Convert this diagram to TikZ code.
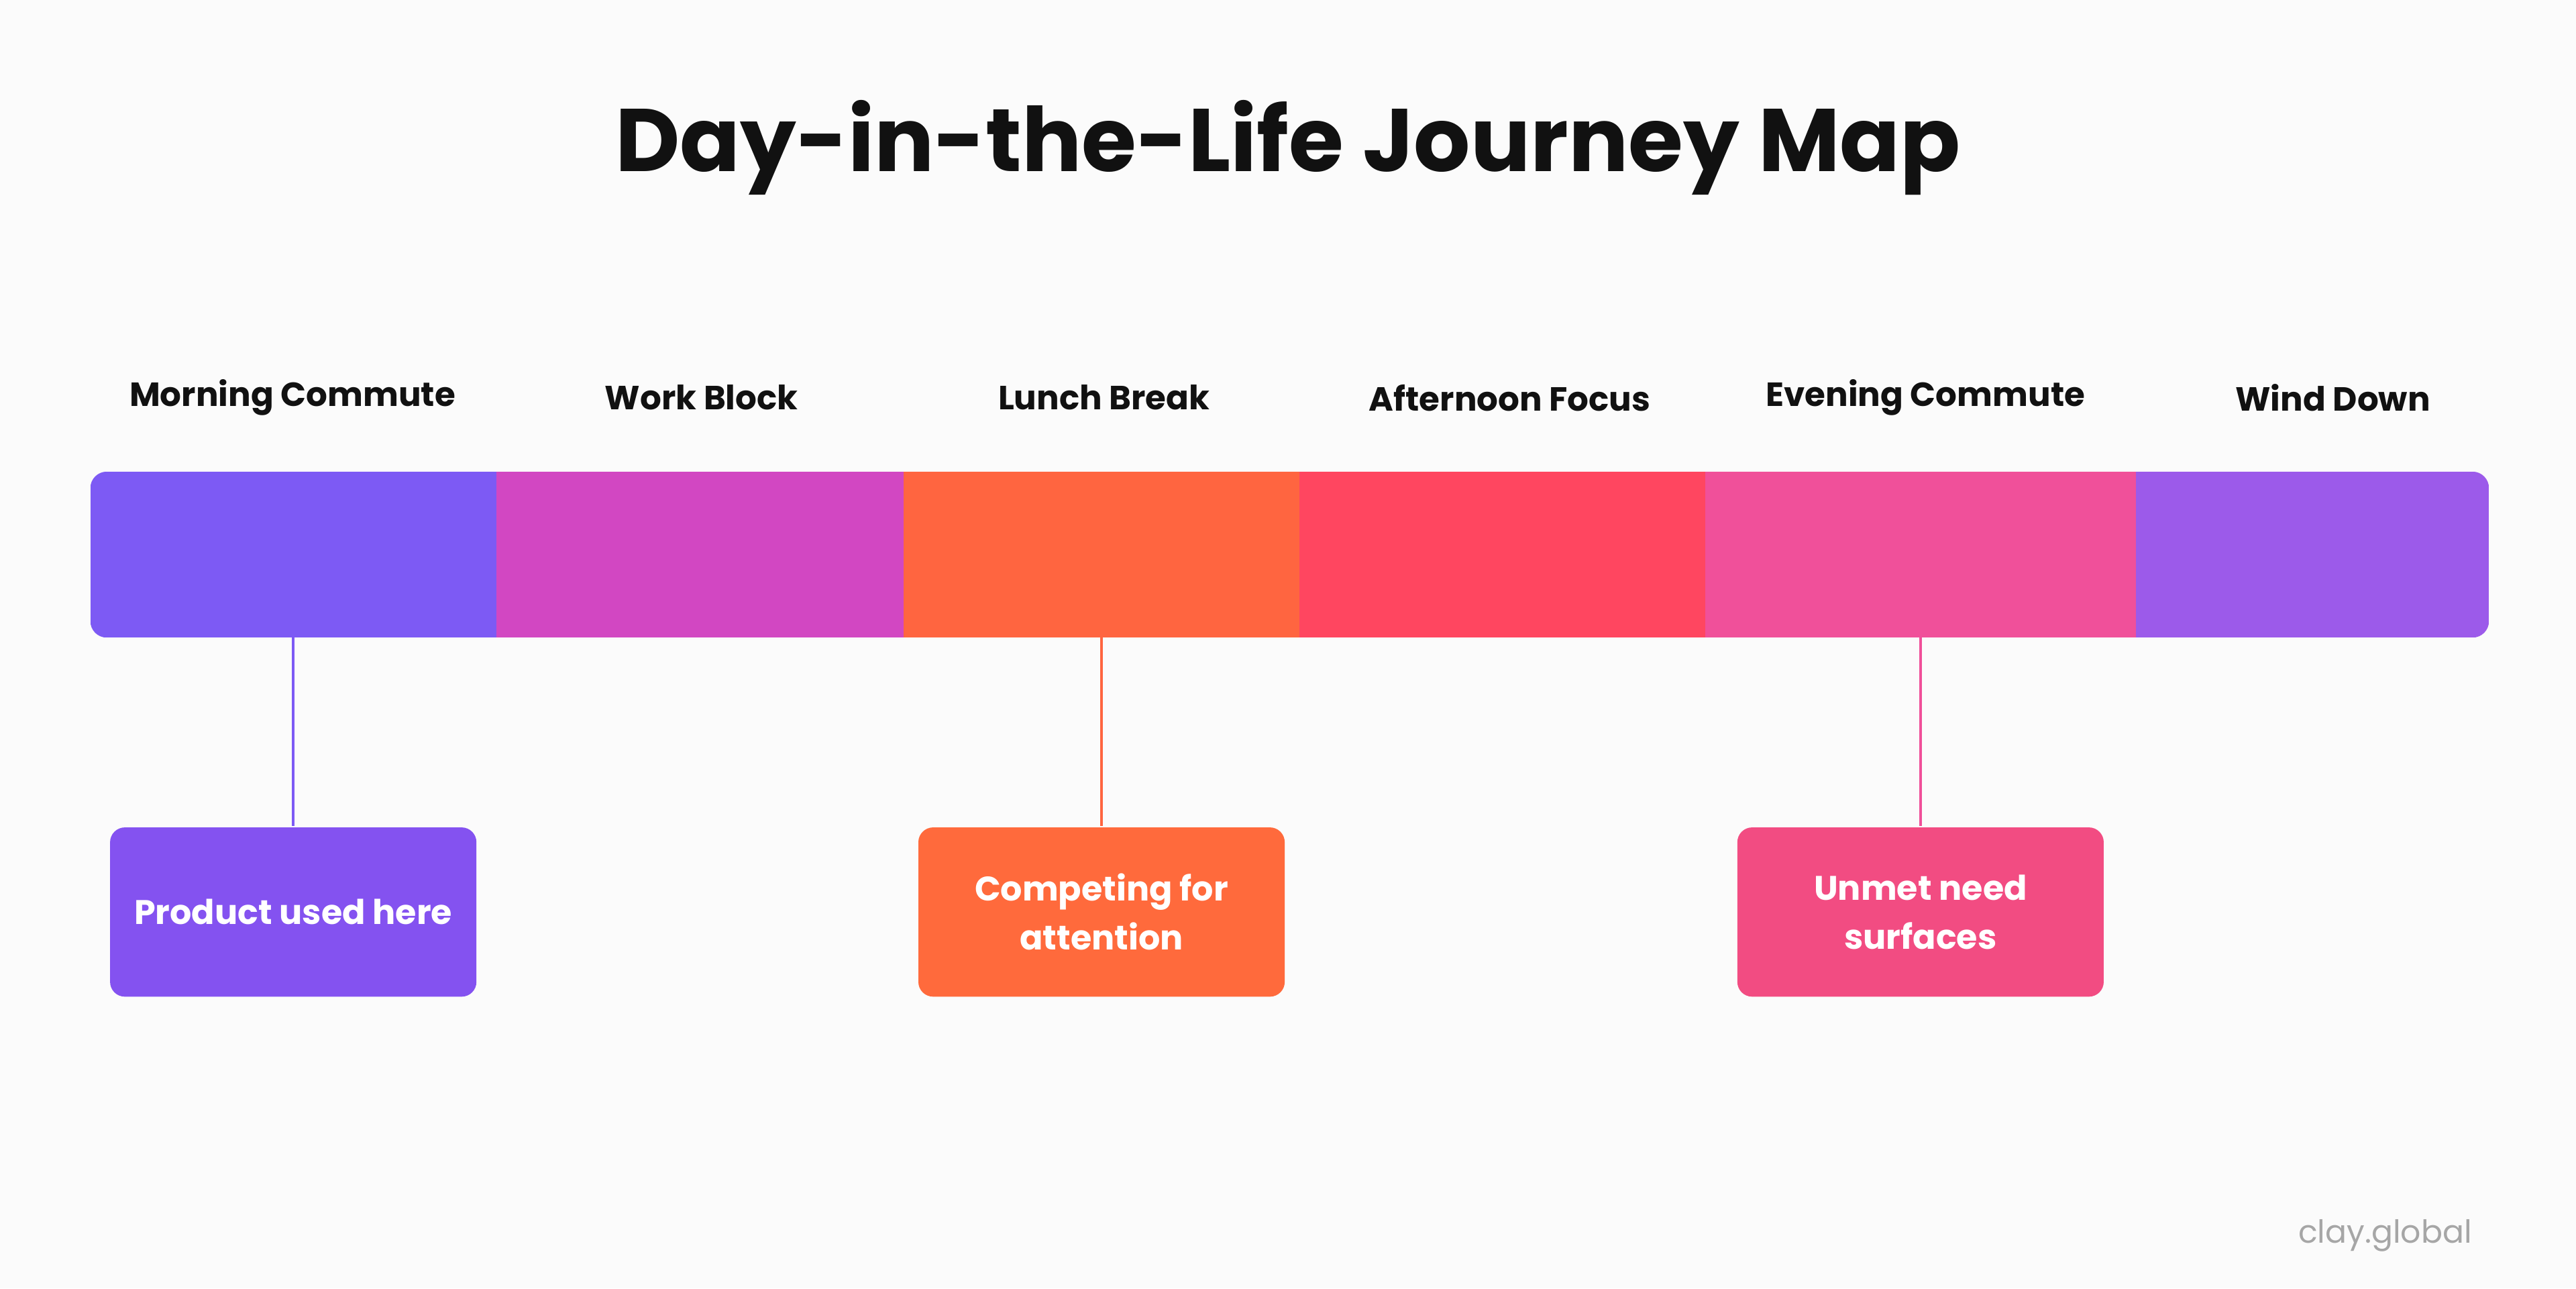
\documentclass[tikz,border=0pt]{standalone}
\usepackage{fontspec}
\setmainfont{Poppins}
\usetikzlibrary{positioning}
\definecolor{daypurple}{HTML}{7D5AF4}
\definecolor{daymagenta}{HTML}{D247C2}
\definecolor{dayorange}{HTML}{FF6540}
\definecolor{dayred}{HTML}{FF4660}
\definecolor{daypink}{HTML}{F0509A}
\definecolor{dayviolet}{HTML}{9C5AEA}
\definecolor{boxpurple}{HTML}{8452F0}
\definecolor{boxorange}{HTML}{FF6A3C}
\definecolor{boxpink}{HTML}{F24C82}
\definecolor{daytext}{HTML}{111111}

\begin{document}
\begin{tikzpicture}[x=1cm,y=1cm,
  seg/.style={minimum height=1.01cm, inner sep=0, outer sep=0},
  phase/.style={font=\fontsize{5.8}{7}\selectfont\bfseries, text=daytext},
  note/.style={rounded corners=0.09cm, minimum width=2.23cm, minimum height=1.03cm, inner sep=0.05cm,
    text=white, align=center, font=\fontsize{5.9}{8.5}\selectfont\bfseries}]
\useasboundingbox (0,0) rectangle (15.68,7.84);
\fill[white!97!gray] (0,0) rectangle (15.68,7.84);

% Title
\node[font=\fontsize{15.4}{18}\selectfont\bfseries, text=daytext] (title) at (7.84,6.94) {Day-in-the-Life Journey Map};

% Timeline bar
\begin{scope}
\clip[rounded corners=0.1cm] (0.55,3.96) rectangle (15.15,4.97);
\foreach \a/\b/\col/\name in {0.55/3.02/daypurple/s1, 3.02/5.50/daymagenta/s2, 5.50/7.91/dayorange/s3,
    7.91/10.38/dayred/s4, 10.38/13.00/daypink/s5, 13.00/15.15/dayviolet/s6} {
  \node[seg, fill=\col, minimum width={(\b-\a)*1cm}, anchor=south west] (\name) at (\a,3.96) {};
}
\end{scope}

% Phase labels
\foreach \x/\txt in {1.78/Morning Commute, 4.27/Work Block, 6.72/Lunch Break,
    9.19/Afternoon Focus, 11.72/Evening Commute, 14.20/Wind Down} {
  \node[phase] at (\x,5.42) {\txt};
}

% Callouts
\node[note, fill=boxpurple] (n1) at (1.785,2.29) {Product used here};
\node[note, fill=boxorange] (n2) at (6.705,2.29) {Competing for\\attention};
\node[note, fill=boxpink] (n3) at (11.69,2.29) {Unmet need\\surfaces};
\coordinate (c1) at (1.785,3.96);
\coordinate (c2) at (6.705,3.96);
\coordinate (c3) at (11.69,3.96);
\draw[daypurple, line width=0.5pt] (c1) -- (n1.north);
\draw[dayorange, line width=0.5pt] (c2) -- (n2.north);
\draw[daypink, line width=0.5pt] (c3) -- (n3.north);

% Watermark
\node[font=\fontsize{5.5}{7}\selectfont, text=gray!70, anchor=east] (mark) at (15.17,0.32) {clay.global};
\end{tikzpicture}
\end{document}
